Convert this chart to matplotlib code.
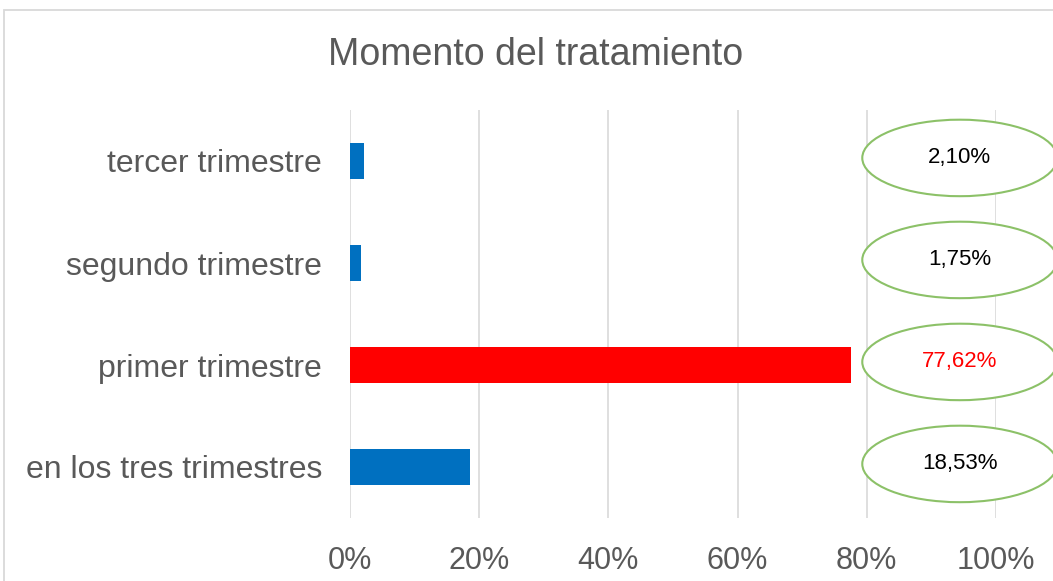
import matplotlib.pyplot as plt
from matplotlib.patches import Ellipse, Rectangle

categorias = ['en los tres trimestres', 'primer trimestre', 'segundo trimestre', 'tercer trimestre']
valores = [18.53, 77.62, 1.75, 2.10]
colores = ['#0070C0', '#FF0000', '#0070C0', '#0070C0']
color_etiqueta = ['black', '#FF0000', 'black', 'black']
ticks_x = [0, 20, 40, 60, 80, 100]

plt.rcParams['font.family'] = ['Liberation Sans', 'DejaVu Sans']
gris = '#595959'

fig = plt.figure(figsize=(10.53, 5.81), dpi=100)
fig.patches.append(Rectangle((4 / 1053, -0.1), 1.2, 1 - 10 / 581 + 0.1,
                             transform=fig.transFigure, fill=False,
                             edgecolor='#D9D9D9', linewidth=1.3))
ax = fig.add_axes([350 / 1053, 1 - 518 / 581, 646 / 1053, 408 / 581])

y = range(len(categorias))
ax.barh(y, valores, height=0.35, color=colores, zorder=3)
ax.set_xlim(0, 100)
ax.set_ylim(-0.5, 3.5)
ax.set_xticks(ticks_x)
ax.set_xticklabels([f'{t}%' for t in ticks_x])
ax.set_yticks(list(y))
ax.set_yticklabels(categorias)
ax.tick_params(length=0, labelsize=22, labelcolor=gris)
ax.tick_params(axis='x', pad=20)
ax.tick_params(axis='y', pad=20, labelsize=23)
ax.grid(axis='x', color='#D9D9D9', linewidth=1.2, zorder=0)
for s in ax.spines.values():
    s.set_visible(False)

for i, v in enumerate(valores):
    e = Ellipse((94.4, i + 0.03), 30.2, 0.75, facecolor='white',
                edgecolor='#8CC168', linewidth=1.5, clip_on=False, zorder=4)
    ax.add_patch(e)
    ax.text(94.4, i + 0.03, f'{v:.2f}%'.replace('.', ','), ha='center', va='center',
            fontsize=16, color=color_etiqueta[i], zorder=5)

fig.text(536 / 1053, 1 - 55 / 581, 'Momento del tratamiento', ha='center', va='center',
         fontsize=27, color=gris)

fig.savefig('out.png', dpi=100)
